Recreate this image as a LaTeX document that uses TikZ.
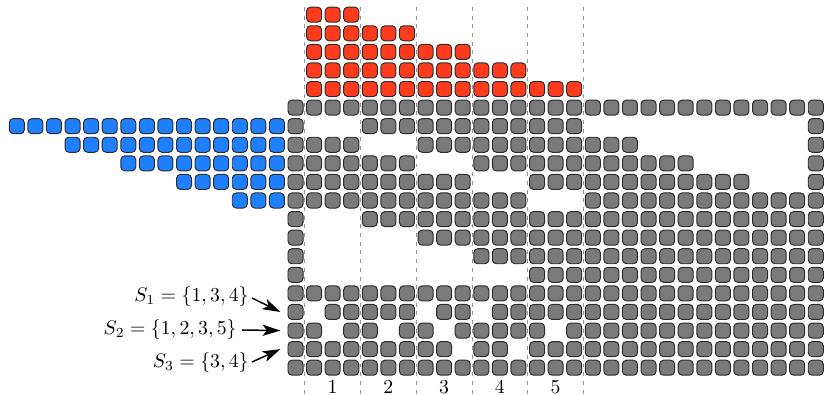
\documentclass[tikz,border=0pt]{standalone}
\usetikzlibrary{arrows.meta}
\definecolor{cellgray}{RGB}{122,122,122}
\definecolor{cellred}{RGB}{255,59,30}
\definecolor{cellblue}{RGB}{31,128,255}
\definecolor{cellline}{RGB}{45,45,45}
\definecolor{guide}{RGB}{150,150,150}
\tikzset{
  cellbase/.style={rectangle, rounded corners=2pt, minimum size=7.6pt, inner sep=0pt,
    draw=cellline, line width=0.5pt},
  gcell/.style={cellbase, fill=cellgray},
  rcell/.style={cellbase, fill=cellred},
  bcell/.style={cellbase, fill=cellblue},
  guideline/.style={draw=guide, line width=0.5pt, dash pattern=on 2pt off 2.4pt},
  setarrow/.style={line width=0.75pt, -{Stealth[length=9pt, width=5.6pt, inset=2.2pt]}},
  setlabel/.style={anchor=east, inner sep=0pt},
  numlabel/.style={inner sep=0pt}
}
\newcommand{\cx}[1]{295.5+18.58*(#1)}
\newcommand{\cy}[1]{107.6+18.58*(#1)}
\begin{document}
\begin{tikzpicture}[x=0.506pt, y=-0.506pt]
\useasboundingbox (0,0) rectangle (824,395);
% dashed guides
\foreach \c in {1,4,7,10,13,16} {
  \draw[guideline] (287.5+18.58*\c-1.29, 7) -- (287.5+18.58*\c-1.29, 395);
}
% red rows (above)
\foreach \k in {1,...,5} {
  \pgfmathtruncatemacro{\n}{3*(6-\k)}
  \foreach \c in {1,...,\n} {
    \node[rcell] (r-\k-\c) at ({\cx{\c}}, {\cy{-\k}}) {};
  }
}
% blue rows (left)
\foreach \r in {1,...,5} {
  \pgfmathtruncatemacro{\n}{3*(6-\r)}
  \foreach \k in {1,...,\n} {
    \node[bcell] (b-\r-\k) at ({\cx{-\k}}, {\cy{\r}}) {};
  }
}
% gray rows
\foreach \r/\cols in {
  0/{0,1,...,28},
  1/{0,4,5,...,15,28},
  2/{0,1,...,3,7,8,...,18,28},
  3/{0,1,...,6,10,11,...,21,28},
  4/{0,1,...,9,13,14,...,24,28},
  5/{0,1,...,12,16,17,...,28},
  6/{0,4,5,...,28},
  7/{0,7,8,...,28},
  8/{0,10,11,...,28},
  9/{0,13,14,...,28},
  10/{0,1,...,28},
  11/{0,2,3,...,6,8,9,11,12,...,28},
  12/{0,1,3,4,6,7,9,10,...,13,15,16,...,28},
  13/{0,1,...,8,10,11,13,14,...,28},
  14/{0,1,...,28}} {
  \foreach \c in \cols {
    \node[gcell] (g-\r-\c) at ({\cx{\c}}, {\cy{\r}}) {};
  }
}
% set labels and arrows
\node[setlabel] (s1) at (249, 297) {$S_1 = \{1,3,4\}$};
\node[setlabel] (s2) at (237, 330) {$S_2 = \{1,2,3,5\}$};
\node[setlabel] (s3) at (249, 363) {$S_3 = \{3,4\}$};
\draw[setarrow] ([xshift=1.5pt, yshift=-0.5pt]s1.east) -- ([xshift=-3.6pt]g-11-0.west);
\draw[setarrow] ([xshift=2.5pt]s2.east) -- ([xshift=-3.6pt]g-12-0.west);
\draw[setarrow] ([xshift=1.5pt, yshift=0.5pt]s3.east) -- ([xshift=-3.6pt]g-13-0.west);
% column numbers
\foreach \k in {1,...,5} {
  \node[numlabel] (n-\k) at ({\cx{3*\k-1}}, 387) {$\k$};
}
\end{tikzpicture}
\end{document}
